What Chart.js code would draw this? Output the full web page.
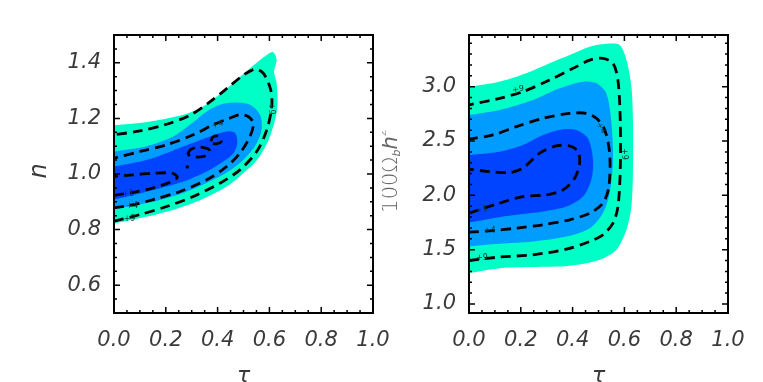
<!DOCTYPE html>
<html>
<head>
<meta charset="utf-8">
<script src="https://cdn.jsdelivr.net/npm/chart.js@4.4.1/dist/chart.umd.min.js"></script>
<style>
  body { margin: 0; background: #fff; }
  #wrap { position: relative; width: 763px; height: 382px; overflow: hidden; }
  .panel { position: absolute; top: 0; height: 382px; }
</style>
</head>
<body>
<div id="wrap">
  <div class="panel" style="left:0;width:410px"><canvas id="leftChart"></canvas></div>
  <div class="panel" style="left:382px;width:381px"><canvas id="rightChart"></canvas></div>
</div>
<script>
// tick labels
var tauTicks = [0, 0.2, 0.4, 0.6, 0.8, 1.0];
var nTicks = [0.6, 0.8, 1.0, 1.2, 1.4];
var obTicks = [1.0, 1.5, 2.0, 2.5, 3.0];

// left panel (tau, n): filled likelihood regions
var nCyan = [[0,0.822],[0.075,0.836],[0.203,0.864],[0.332,0.906],[0.435,0.955],[0.499,1.003],[0.551,1.049],[0.59,1.109],[0.615,1.171],[0.631,1.243],[0.628,1.327],[0.618,1.368],[0.628,1.41],[0.615,1.438],[0.59,1.428],[0.525,1.38],[0.461,1.327],[0.396,1.278],[0.333,1.237],[0.268,1.213],[0.129,1.187],[0,1.175]];
var nBlue = [[0,0.874],[0.129,0.896],[0.268,0.932],[0.383,0.979],[0.461,1.021],[0.512,1.063],[0.551,1.111],[0.57,1.159],[0.564,1.213],[0.525,1.249],[0.461,1.257],[0.409,1.249],[0.358,1.225],[0.293,1.177],[0.229,1.135],[0.129,1.101],[0,1.081]];
var nDark = [[0,0.908],[0.129,0.937],[0.268,0.973],[0.358,1.009],[0.422,1.045],[0.461,1.075],[0.476,1.111],[0.468,1.147],[0.435,1.153],[0.371,1.135],[0.268,1.099],[0.129,1.051],[0,1.027]];
// left panel dashed contours (+9, +4, +1)
var n9 = [[0,0.830],[0.1,0.854],[0.203,0.883],[0.306,0.919],[0.409,0.967],[0.486,1.015],[0.551,1.081],[0.59,1.159],[0.609,1.243],[0.605,1.303],[0.577,1.362],[0.545,1.377],[0.5,1.356],[0.435,1.307],[0.36,1.252],[0.29,1.21],[0.203,1.179],[0.1,1.155],[0,1.141]];
var n4 = [[0,0.878],[0.077,0.89],[0.152,0.908],[0.255,0.937],[0.358,0.979],[0.435,1.027],[0.486,1.075],[0.525,1.135],[0.538,1.183],[0.518,1.207],[0.486,1.213],[0.447,1.201],[0.383,1.177],[0.306,1.141],[0.203,1.105],[0.1,1.081],[0,1.057]];
var n1 = [[0,0.923],[0.075,0.934],[0.152,0.95],[0.216,0.97],[0.245,0.989],[0.223,1.003],[0.152,1.003],[0.075,0.997],[0,0.991]];
var n1b = [[0.284,1.072],[0.296,1.088],[0.326,1.097],[0.358,1.092],[0.368,1.084],[0.356,1.067],[0.326,1.061],[0.296,1.064],[0.284,1.072]];
var n1c = [[0.374,1.118],[0.382,1.133],[0.398,1.137],[0.413,1.130],[0.414,1.116],[0.398,1.109],[0.380,1.110],[0.374,1.118]];
var n1dot = [[0.283,1.025]];

// right panel (tau, 100 Omega_b h^2)
var obCyan = [[0,1.285],[0.118,1.33],[0.247,1.34],[0.389,1.352],[0.505,1.407],[0.569,1.499],[0.608,1.683],[0.627,1.897],[0.633,2.234],[0.633,2.694],[0.627,3.0],[0.608,3.245],[0.582,3.383],[0.543,3.398],[0.466,3.368],[0.389,3.291],[0.311,3.215],[0.221,3.123],[0.118,3.046],[0,3.0]];
var obBlue = [[0,1.529],[0.118,1.554],[0.247,1.575],[0.376,1.621],[0.466,1.698],[0.517,1.836],[0.543,2.02],[0.556,2.326],[0.549,2.694],[0.53,2.939],[0.492,3.031],[0.44,3.046],[0.35,2.985],[0.247,2.878],[0.118,2.786],[0,2.74]];
var obDark = [[0,1.75],[0.093,1.79],[0.183,1.821],[0.286,1.851],[0.376,1.897],[0.44,1.989],[0.472,2.142],[0.479,2.326],[0.459,2.526],[0.414,2.602],[0.363,2.608],[0.286,2.556],[0.208,2.464],[0.118,2.402],[0,2.372]];
var ob9 = [[0,1.4],[0.118,1.432],[0.247,1.453],[0.376,1.505],[0.466,1.575],[0.517,1.637],[0.556,1.744],[0.575,1.897],[0.584,2.234],[0.584,2.694],[0.575,3.061],[0.556,3.215],[0.517,3.261],[0.466,3.245],[0.402,3.169],[0.311,3.061],[0.208,2.954],[0.118,2.893],[0,2.832]];
var ob4 = [[0,1.661],[0.093,1.676],[0.183,1.698],[0.286,1.729],[0.389,1.775],[0.466,1.836],[0.517,1.928],[0.54,2.081],[0.543,2.388],[0.524,2.602],[0.492,2.709],[0.453,2.755],[0.389,2.755],[0.286,2.709],[0.183,2.633],[0.093,2.556],[0,2.519]];
var ob1 = [[0,1.836],[0.118,1.928],[0.208,1.989],[0.298,2.004],[0.363,2.05],[0.408,2.158],[0.427,2.296],[0.421,2.402],[0.389,2.455],[0.337,2.455],[0.273,2.388],[0.208,2.25],[0.157,2.21],[0.08,2.219],[0,2.241]];

// contour labels: text, tau, value, rotation
var leftLabels = [['+9',0.06,0.838,0],['+4',0.07,0.886,0],['+1',0.055,0.928,0],['+4',0.40,1.178,-15],['+9',0.607,1.235,90]];
var rightLabels = [['+9',0.19,2.975,-12],['+9',0.05,1.425,0],['+4',0.08,1.67,0],['+1',0.05,1.87,-15],['+4',0.51,2.62,60],['+9',0.6,2.38,90]];

var CYAN = '#00ffc6', BLUE = '#009cff', DARK = '#0044ff';
var TEXT = '#3a3a3a';
var tickFont = { family: 'DejaVu Sans', size: 21, style: 'italic', weight: '300' };

function xy(a) { return a.map(function (p) { return { x: p[0], y: p[1] }; }); }

function region(pts, color, order) {
  return { data: xy(pts), backgroundColor: color, borderWidth: 0, pointRadius: 0,
    fill: 'shape', tension: 0.3, order: order };
}
function contour(pts) {
  return { data: xy(pts), borderColor: '#000', borderWidth: 2.8, borderDash: [10, 6],
    pointRadius: 0, fill: false, tension: 0.3, order: 0 };
}

// inward ticks on all four sides plus the frame
var frameTicks = {
  id: 'frameTicks',
  afterDraw: function (chart, args, opts) {
    var ctx = chart.ctx, a = chart.chartArea, sx = chart.scales.x, sy = chart.scales.y;
    ctx.save();
    ctx.strokeStyle = '#000';
    ctx.lineWidth = 1.5;
    function marks(scale, step, majors, horiz) {
      var i = Math.ceil(scale.min / step - 1e-6);
      for (; i * step <= scale.max + 1e-9; i++) {
        var v = i * step;
        var major = majors.some(function (m) { return Math.abs(m - v) < 1e-6; });
        var len = major ? 6 : 3;
        var p = scale.getPixelForValue(v);
        ctx.beginPath();
        if (horiz) {
          ctx.moveTo(p, a.bottom); ctx.lineTo(p, a.bottom - len);
          ctx.moveTo(p, a.top); ctx.lineTo(p, a.top + len);
        } else {
          ctx.moveTo(a.left, p); ctx.lineTo(a.left + len, p);
          ctx.moveTo(a.right, p); ctx.lineTo(a.right - len, p);
        }
        ctx.stroke();
      }
    }
    marks(sx, 0.05, opts.xMajor, true);
    marks(sy, opts.yStep, opts.yMajor, false);
    ctx.lineWidth = 2;
    ctx.strokeRect(a.left, a.top, a.right - a.left, a.bottom - a.top);
    ctx.restore();
  }
};

// contour labels and axis titles
var annotate = {
  id: 'annotate',
  afterDraw: function (chart, args, opts) {
    var ctx = chart.ctx, sx = chart.scales.x, sy = chart.scales.y, a = chart.chartArea;
    ctx.save();
    ctx.font = '8px "DejaVu Sans"';
    ctx.fillStyle = '#0d3b2a';
    ctx.textAlign = 'center';
    ctx.textBaseline = 'middle';
    opts.labels.forEach(function (l) {
      ctx.save();
      ctx.translate(sx.getPixelForValue(l[1]), sy.getPixelForValue(l[2]));
      ctx.rotate(l[3] * Math.PI / 180);
      ctx.fillText(l[0], 0, 0);
      ctx.restore();
    });
    ctx.fillStyle = TEXT;
    ctx.font = 'italic 300 22px "DejaVu Sans"';
    ctx.fillText('\u03c4', (a.left + a.right) / 2, 376);
    // y title, rotated, built from pieces for sub/superscripts
    ctx.save();
    ctx.fillStyle = opts.yTitleColor;
    ctx.translate(opts.yTitleX, (a.top + a.bottom) / 2 - 3);
    ctx.rotate(-Math.PI / 2);
    ctx.textAlign = 'left';
    var w = 0;
    opts.yTitle.forEach(function (p) { ctx.font = p[3] + ' ' + p[1] + 'px "DejaVu Sans"'; w += ctx.measureText(p[0]).width; });
    var x = -w / 2;
    opts.yTitle.forEach(function (p) {
      ctx.font = p[3] + ' ' + p[1] + 'px "DejaVu Sans"';
      ctx.fillText(p[0], x, p[2]);
      x += ctx.measureText(p[0]).width;
    });
    ctx.restore();
    ctx.restore();
  }
};

function makeChart(id, datasets, yMin, yMax, yTicks, yWidth, rightPad, extra) {
  return new Chart(document.getElementById(id), {
    type: 'line',
    data: { datasets: datasets },
    options: {
      responsive: true,
      maintainAspectRatio: false,
      animation: false,
      events: [],
      layout: { padding: { top: 35, right: rightPad, left: 0, bottom: 0 } },
      plugins: {
        legend: { display: false },
        tooltip: { enabled: false },
        frameTicks: { xMajor: tauTicks, yMajor: yTicks, yStep: extra.yStep },
        annotate: { labels: extra.labels, yTitle: extra.yTitle, yTitleX: extra.yTitleX, yTitleColor: extra.yTitleColor }
      },
      scales: {
        x: {
          type: 'linear', min: 0, max: 1,
          grid: { display: false }, border: { display: false },
          afterBuildTicks: function (s) { s.ticks = tauTicks.map(function (v) { return { value: v }; }); },
          afterFit: function (s) { s.height = 69; s.paddingLeft = 0; s.paddingRight = 0; },
          ticks: { font: tickFont, color: TEXT, padding: 7, maxRotation: 0, autoSkip: false,
            callback: function (v) { return v.toFixed(1); } }
        },
        y: {
          type: 'linear', min: yMin, max: yMax,
          grid: { display: false }, border: { display: false },
          afterBuildTicks: function (s) { s.ticks = yTicks.map(function (v) { return { value: v }; }); },
          afterFit: function (s) { s.width = yWidth; s.paddingTop = 0; s.paddingBottom = 0; },
          ticks: { font: tickFont, color: TEXT, padding: 5, autoSkip: false,
            callback: function (v) { return v.toFixed(1); } }
        }
      }
    },
    plugins: [frameTicks, annotate]
  });
}

makeChart('leftChart', [
  region(nCyan, CYAN, 30), region(nBlue, BLUE, 20), region(nDark, DARK, 10),
  contour(n9), contour(n4), contour(n1), contour(n1b), contour(n1c),
  { data: xy(n1dot), showLine: false, pointRadius: 1.8, pointBackgroundColor: '#000', pointBorderWidth: 0, order: 0 }
], 0.5, 1.5, nTicks, 114, 37, {
  yStep: 0.05, labels: leftLabels, yTitleX: 40, yTitleColor: TEXT,
  yTitle: [['n', 24, 0, 'italic 300']]
});

makeChart('rightChart', [
  region(obCyan, CYAN, 30), region(obBlue, BLUE, 20), region(obDark, DARK, 10),
  contour(ob9), contour(ob4), contour(ob1)
], 0.917, 3.476, obTicks, 87, 35, {
  yStep: 0.1, labels: rightLabels, yTitleX: 10, yTitleColor: '#666',
  yTitle: [['100\u03a9', 21, 0, '300'], ['b', 11, 5, 'italic 300'], ['h', 21, 0, 'italic 300'], ['2', 11, -9, '300']]
});
</script>
</body>
</html>
